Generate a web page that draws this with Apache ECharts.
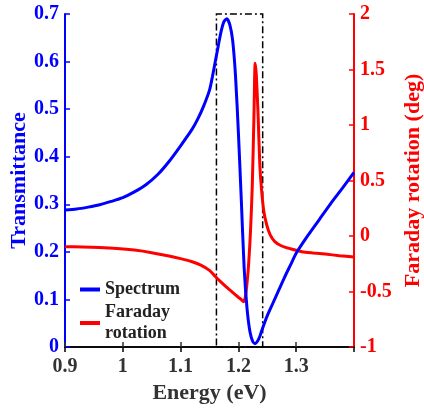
<!DOCTYPE html>
<html>
<head>
<meta charset="utf-8">
<script src="https://cdn.jsdelivr.net/npm/echarts@6/dist/echarts.min.js"></script>
<style>
  html, body { margin: 0; padding: 0; background: #fff; }
  #chart { width: 424px; height: 410px; }
</style>
</head>
<body>
<div id="chart"></div>
<script>
// Transmission spectrum (left axis)
const spectrumEnergy = [0.90, 0.92, 0.94, 0.96, 0.98, 1.00, 1.02, 1.04, 1.06, 1.08, 1.10, 1.12, 1.13, 1.14, 1.15, 1.155, 1.16, 1.165, 1.17, 1.175, 1.18, 1.185, 1.19, 1.195, 1.20, 1.205, 1.21, 1.215, 1.22, 1.225, 1.229, 1.233, 1.237, 1.24, 1.245, 1.25, 1.26, 1.27, 1.28, 1.29, 1.30, 1.32, 1.34, 1.36, 1.38, 1.40];
const spectrumValue  = [0.288, 0.290, 0.294, 0.299, 0.306, 0.314, 0.326, 0.341, 0.362, 0.390, 0.423, 0.458, 0.480, 0.507, 0.540, 0.568, 0.600, 0.632, 0.663, 0.684, 0.690, 0.678, 0.645, 0.570, 0.450, 0.310, 0.165, 0.080, 0.032, 0.011, 0.007, 0.012, 0.022, 0.033, 0.050, 0.066, 0.093, 0.120, 0.147, 0.172, 0.197, 0.234, 0.268, 0.302, 0.334, 0.367];

// Faraday rotation (right axis, degrees)
const faradayEnergy = [0.90, 0.93, 0.96, 0.99, 1.02, 1.05, 1.08, 1.10, 1.12, 1.135, 1.15, 1.16, 1.17, 1.18, 1.19, 1.20, 1.205, 1.209, 1.212, 1.215, 1.218, 1.221, 1.224, 1.227, 1.229, 1.231, 1.234, 1.237, 1.240, 1.244, 1.249, 1.255, 1.263, 1.275, 1.29, 1.31, 1.33, 1.35, 1.375, 1.40];
const faradayValue  = [-0.096, -0.098, -0.103, -0.112, -0.127, -0.150, -0.180, -0.204, -0.232, -0.262, -0.310, -0.365, -0.415, -0.463, -0.508, -0.552, -0.573, -0.592, -0.550, -0.420, -0.230, 0.050, 0.450, 1.100, 1.556, 1.450, 1.100, 0.650, 0.420, 0.220, 0.100, 0.010, -0.050, -0.090, -0.115, -0.141, -0.153, -0.163, -0.177, -0.190];

// Highlighted resonance window
const windowEnergy = [1.162, 1.242];

const leftTicks = [0, 0.1, 0.2, 0.3, 0.4, 0.5, 0.6, 0.7];
const rightTicks = [-1, -0.5, 0, 0.5, 1, 1.5, 2];
const bottomTicks = [0.9, 1, 1.1, 1.2, 1.3];

const FONT = '"Liberation Serif", "Times New Roman", serif';
const BLUE = '#0000ff';
const RED = '#ff0000';
const GREY = '#333333';

const pair = (xs, ys) => xs.map((x, i) => [x, ys[i]]);

const chart = echarts.init(document.getElementById('chart'), null, { renderer: 'canvas' });

chart.setOption({
  animation: false,
  backgroundColor: '#ffffff',
  grid: { left: 65, right: 70, top: 14, bottom: 63, containLabel: false, outerBoundsMode: 'none' },
  legend: {
    orient: 'vertical',
    left: 80,
    top: 279,
    padding: 0,
    itemWidth: 20,
    itemHeight: 4,
    itemGap: 2,
    icon: 'rect',
    formatter: n => n === 'Faraday rotation' ? 'Faraday\nrotation' : n,
    textStyle: { fontFamily: FONT, fontWeight: 'bold', fontSize: 18, color: '#222', lineHeight: 21 },
    data: ['Spectrum', 'Faraday rotation']
  },
  xAxis: [
    {
      type: 'value',
      min: 0.9, max: 1.4, interval: 0.1,
      name: 'Energy (eV)',
      nameLocation: 'middle',
      nameGap: 34,
      nameTextStyle: { fontFamily: FONT, fontWeight: 'bold', fontSize: 22, color: GREY },
      axisLine: { show: true, onZero: false, lineStyle: { color: GREY, width: 2 } },
      axisTick: { show: true, inside: true, length: 5, lineStyle: { color: GREY, width: 1.5 } },
      axisLabel: {
        color: GREY, fontFamily: FONT, fontWeight: 'bold', fontSize: 20, margin: 10,
        showMaxLabel: false,
        formatter: v => bottomTicks.some(t => Math.abs(t - v) < 1e-6) ? String(+v.toFixed(1)) : ''
      },
      splitLine: { show: false }
    },
    {
      type: 'value',
      position: 'top',
      min: 0.9, max: 1.4, interval: 0.1,
      axisLine: { show: true, lineStyle: { color: '#000', width: 1.5 } },
      axisTick: { show: true, inside: true, length: 5, lineStyle: { color: '#000', width: 1.5 } },
      axisLabel: { show: false },
      splitLine: { show: false }
    }
  ],
  yAxis: [
    {
      type: 'value',
      min: 0, max: 0.7, interval: 0.1,
      name: 'Transmittance',
      nameLocation: 'middle',
      nameGap: 35,
      nameMoveOverlap: false,
      nameTextStyle: { fontFamily: FONT, fontWeight: 'bold', fontSize: 22, color: BLUE },
      axisLine: { show: true, lineStyle: { color: BLUE, width: 2 } },
      axisTick: { show: true, inside: true, length: 5, lineStyle: { color: BLUE, width: 1.5 } },
      axisLabel: {
        color: BLUE, fontFamily: FONT, fontWeight: 'bold', fontSize: 20, margin: 6,
        formatter: v => leftTicks.some(t => Math.abs(t - v) < 1e-6) ? String(+v.toFixed(1)) : ''
      },
      splitLine: { show: false }
    },
    {
      type: 'value',
      min: -1, max: 2, interval: 0.5,
      position: 'right',
      name: 'Faraday rotation (deg)',
      nameLocation: 'middle',
      nameGap: 44,
      nameRotate: 90,
      nameTextStyle: { fontFamily: FONT, fontWeight: 'bold', fontSize: 22, color: RED },
      axisLine: { show: true, lineStyle: { color: RED, width: 2 } },
      axisTick: { show: true, inside: true, length: 5, lineStyle: { color: RED, width: 1.5 } },
      axisLabel: {
        color: RED, fontFamily: FONT, fontWeight: 'bold', fontSize: 20, margin: 6,
        formatter: v => rightTicks.some(t => Math.abs(t - v) < 1e-6) ? String(+v.toFixed(1)).replace(/\.0$/, '') : ''
      },
      splitLine: { show: false }
    }
  ],
  series: [
    {
      name: 'Spectrum',
      type: 'line',
      xAxisIndex: 0,
      yAxisIndex: 0,
      data: pair(spectrumEnergy, spectrumValue),
      showSymbol: false,
      smooth: 0.25,
      lineStyle: { color: BLUE, width: 3 },
      itemStyle: { color: BLUE },
      z: 3,
      markArea: {
        silent: true,
        itemStyle: {
          color: 'rgba(0,0,0,0)',
          borderColor: '#000',
          borderWidth: 1.5,
          borderType: [7, 3, 2, 3]
        },
        data: [[
          { xAxis: windowEnergy[0], yAxis: 0 },
          { xAxis: windowEnergy[1], yAxis: 0.7 }
        ]]
      }
    },
    {
      name: 'Faraday rotation',
      type: 'line',
      xAxisIndex: 0,
      yAxisIndex: 1,
      data: pair(faradayEnergy, faradayValue),
      showSymbol: false,
      smooth: 0.25,
      lineStyle: { color: RED, width: 3 },
      itemStyle: { color: RED },
      z: 2
    }
  ]
});
</script>
</body>
</html>
